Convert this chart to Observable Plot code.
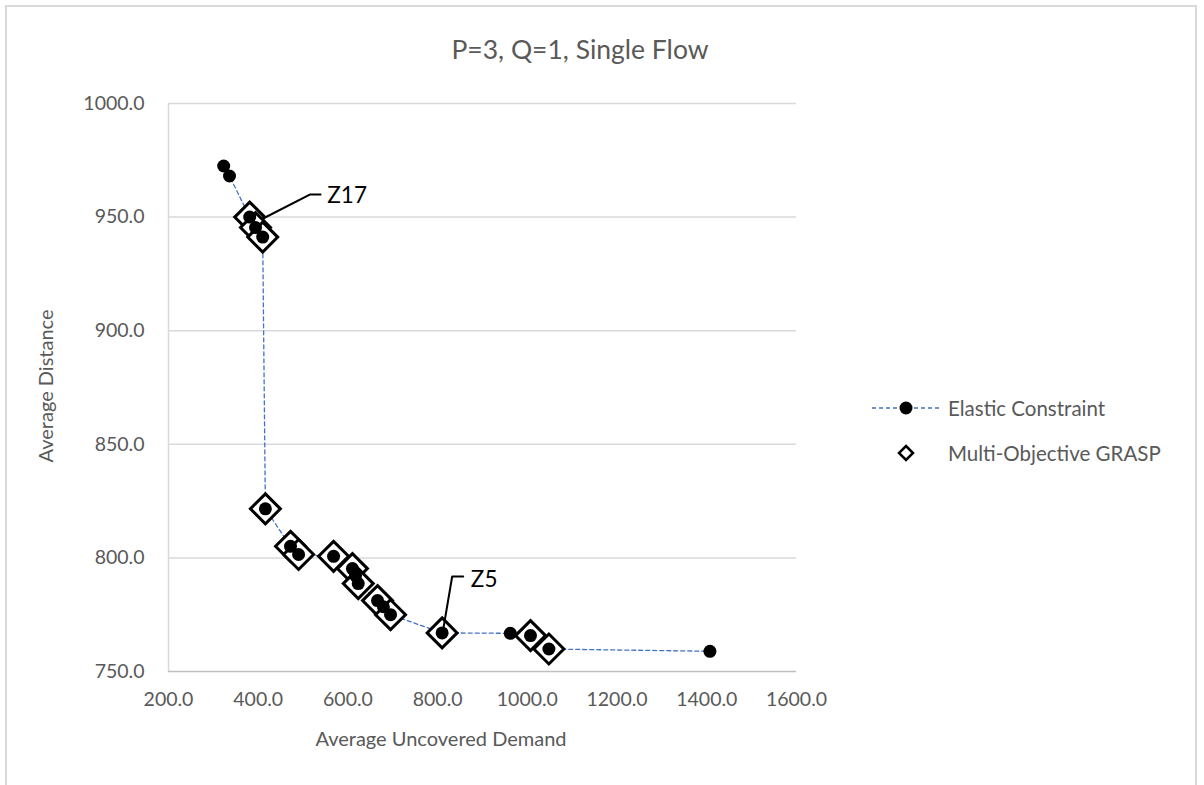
<!DOCTYPE html>
<html>
<head>
<meta charset="utf-8">
<script src="https://cdn.jsdelivr.net/npm/d3@7"></script>
<script src="https://cdn.jsdelivr.net/npm/@observablehq/plot@0.6"></script>
<style>
  html, body { margin: 0; padding: 0; background: white; }
  body { width: 1204px; height: 785px; position: relative; overflow: hidden; font-family: Lato, "Open Sans", sans-serif; color: #595959; }
  #frame { position: absolute; left: 5px; top: 5px; width: 1192px; height: 820px; border: 2px solid #d9d9d9; box-sizing: border-box; }
  #chart { position: absolute; left: 0; top: 0; }
  .t { position: absolute; white-space: nowrap; line-height: 1; }
  #title { left: 0; width: 1160px; text-align: center; top: 36px; font-size: 26.5px; }
  #xtitle { left: 168px; width: 546px; text-align: center; top: 728px; font-size: 20px; }
  #ytitle { left: 45px; top: 386px; font-size: 20px; transform: translate(-50%, -50%) rotate(-90deg); }
  #legend { position: absolute; left: 870px; top: 395px; font-size: 20.5px; }
  .li { display: flex; align-items: center; height: 26px; margin-bottom: 19px; }
  .li svg { margin-right: 6px; }
</style>
</head>
<body>
<div id="frame"></div>
<div id="chart"></div>
<div class="t" id="title">P=3, Q=1, Single Flow</div>
<div class="t" id="xtitle">Average Uncovered Demand</div>
<div class="t" id="ytitle">Average Distance</div>
<div id="legend"></div>
<script>
// Elastic Constraint series
const ecX = [323, 336, 381, 394, 410, 416, 472, 490, 568, 610, 617, 623, 666, 679, 695, 810, 962, 1007, 1048, 1407];
const ecY = [972.5, 968.1, 950.0, 945.4, 941.2, 821.6, 805.1, 801.5, 800.7, 795.3, 792.2, 788.7, 781.2, 778.5, 775.0, 767.0, 766.8, 765.8, 759.9, 758.9];
// Multi-Objective GRASP series
const grX = [381, 394, 410, 416, 472, 490, 568, 610, 623, 666, 695, 810, 1007, 1048];
const grY = [950.0, 945.4, 941.2, 821.6, 805.1, 801.5, 800.7, 795.3, 788.7, 781.2, 775.0, 767.0, 765.8, 759.9];
// axis ticks
const xTicks = [200, 400, 600, 800, 1000, 1200, 1400, 1600];
const yTicks = [750, 800, 850, 900, 950, 1000];
// annotations
const annLabel = ["Z17", "Z5"];
const annX = [554, 874];
const annY = [959.5, 790.5];
const leaderId = ["Z17", "Z17", "Z17", "Z5", "Z5", "Z5"];
const leaderX = [412, 516, 539, 812.6, 832.4, 857];
const leaderY = [949.5, 960, 960, 768.7, 791.8, 791.8];

const ec = ecX.map((x, i) => ({x, y: ecY[i]}));
const gr = grX.map((x, i) => ({x, y: grY[i]}));
const ann = annLabel.map((t, i) => ({t, x: annX[i], y: annY[i]}));
const leaders = leaderId.map((id, i) => ({id, x: leaderX[i], y: leaderY[i]}));

const fmt = d => d.toFixed(1);

const chart = Plot.plot({
  width: 1204,
  height: 785,
  marginLeft: 168,
  marginRight: 408,
  marginTop: 103,
  marginBottom: 114,
  style: {fontFamily: "Lato, 'Open Sans', sans-serif", fontSize: "19.5px", color: "#595959", background: "transparent"},
  x: {domain: [200, 1600]},
  y: {domain: [750, 1000]},
  marks: [
    Plot.gridY(yTicks.slice(1), {stroke: "#d9d9d9", strokeOpacity: 1, strokeWidth: 1.5}),
    Plot.ruleX([200], {stroke: "#d9d9d9", strokeWidth: 1.5}),
    Plot.ruleY([750], {stroke: "#bfbfbf", strokeWidth: 1.5}),
    Plot.axisX(xTicks, {tickSize: 0, tickPadding: 21, tickFormat: fmt, label: null, fill: "#595959", fontSize: 19.5}),
    Plot.axisY(yTicks, {tickSize: 0, tickPadding: 24, tickFormat: fmt, label: null, fill: "#595959", fontSize: 19.5}),
    Plot.line(ec, {x: "x", y: "y", stroke: "#4472c4", strokeWidth: 1.3, strokeDasharray: "4,3"}),
    Plot.dot(gr, {x: "x", y: "y", symbol: "diamond2", r: 13.5, stroke: "black", strokeWidth: 3, fill: "white"}),
    Plot.dot(ec, {x: "x", y: "y", r: 6.5, fill: "black", stroke: "none"}),
    Plot.line(leaders, {x: "x", y: "y", z: "id", stroke: "black", strokeWidth: 2}),
    Plot.text(ann, {x: "x", y: "y", text: "t", textAnchor: "start", fontSize: 22.5, fill: "black"})
  ]
});
document.getElementById("chart").appendChild(chart);

// legend
const legend = document.getElementById("legend");
legend.innerHTML = `
<div class="li"><svg width="72" height="20"><line x1="2" x2="70" y1="10" y2="10" stroke="#4472c4" stroke-width="1.3" stroke-dasharray="4,3"/><circle cx="36" cy="10" r="6.5" fill="black"/></svg><span>Elastic Constraint</span></div>
<div class="li"><svg width="72" height="20"><path d="M36,3L43,10L36,17L29,10Z" fill="white" stroke="black" stroke-width="2.5"/></svg><span>Multi-Objective GRASP</span></div>`;
</script>
</body>
</html>
